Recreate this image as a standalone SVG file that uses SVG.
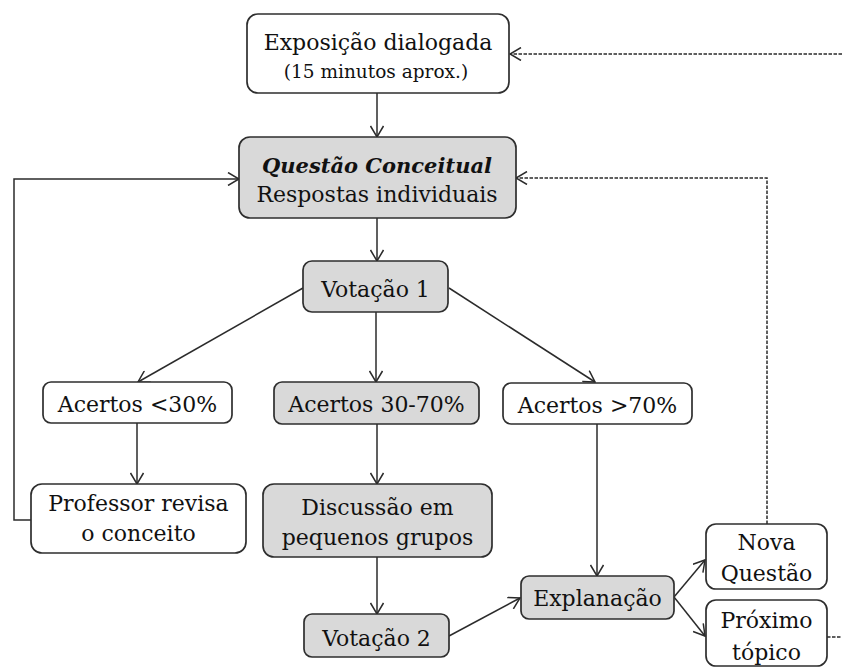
<svg xmlns="http://www.w3.org/2000/svg" width="842" height="669" viewBox="0 0 842 669">
<defs>
<marker id="arr" viewBox="-12 -7 13 14" refX="0" refY="0" markerWidth="13" markerHeight="14" markerUnits="userSpaceOnUse" orient="auto">
<path d="M-11,-6.5 L0,0 L-11,6.5" fill="none" stroke="#2b2b2b" stroke-width="1.5"/>
</marker>
<style>
.box{stroke:#2e2e2e;stroke-width:1.7}
.w{fill:#fff}
.g{fill:#d9d9d9}
text{font-family:"DejaVu Serif","Liberation Serif",serif;font-size:22px;fill:#111;text-anchor:middle}
.sm{font-size:18.5px}
.bi{font-weight:bold;font-style:italic;font-size:21px}
.c{fill:none;stroke:#2b2b2b;stroke-width:1.5}
.d{stroke-dasharray:3.5 1.5}
</style>
</defs>
<rect width="842" height="669" fill="#fff"/>
<g id="connectors">
<path class="c d" d="M842,54 H510" marker-end="url(#arr)"/>
<path class="c" d="M377,93 V137" marker-end="url(#arr)"/>
<path class="c" d="M31,520 H14 V179 H239" marker-end="url(#arr)"/>
<path class="c d" d="M767,524 V178 H516" marker-end="url(#arr)"/>
<path class="c" d="M377,218 V261" marker-end="url(#arr)"/>
<path class="c" d="M303,288 L138,382" marker-end="url(#arr)"/>
<path class="c" d="M376,312 V382" marker-end="url(#arr)"/>
<path class="c" d="M449,288 L595,382" marker-end="url(#arr)"/>
<path class="c" d="M137,423 V484" marker-end="url(#arr)"/>
<path class="c" d="M377,424 V484" marker-end="url(#arr)"/>
<path class="c" d="M377,557 V614" marker-end="url(#arr)"/>
<path class="c" d="M449,636 L520,598" marker-end="url(#arr)"/>
<path class="c" d="M597,424 V576" marker-end="url(#arr)"/>
<path class="c" d="M674,597 L705,560" marker-end="url(#arr)"/>
<path class="c" d="M674,597 L705,636" marker-end="url(#arr)"/>
<path class="c d" d="M827,637 H842"/>
</g>
<g id="n1"><rect class="box w" x="247" y="14" width="262" height="79" rx="11"/>
<text x="378" y="50">Exposição dialogada</text><text class="sm" x="376" y="78">(15 minutos aprox.)</text></g>
<g id="n2"><rect class="box g" x="239" y="137" width="277" height="81" rx="11"/>
<text class="bi" x="377" y="173">Questão Conceitual</text><text x="377" y="202">Respostas individuais</text></g>
<g id="n3"><rect class="box g" x="303" y="261" width="145" height="51" rx="9"/>
<text x="375.5" y="297">Votação 1</text></g>
<g id="n4"><rect class="box w" x="43" y="382" width="189" height="41" rx="8"/>
<text x="137.5" y="412">Acertos &lt;30%</text></g>
<g id="n5"><rect class="box g" x="274" y="382" width="205" height="42" rx="8"/>
<text x="376.5" y="412">Acertos 30-70%</text></g>
<g id="n6"><rect class="box w" x="503" y="383" width="189" height="41" rx="8"/>
<text x="597.5" y="413">Acertos &gt;70%</text></g>
<g id="n7"><rect class="box w" x="31" y="484" width="215" height="69" rx="11"/>
<text x="138.5" y="511">Professor revisa</text><text x="138.5" y="541">o conceito</text></g>
<g id="n8"><rect class="box g" x="263" y="484" width="229" height="73" rx="11"/>
<text x="377.5" y="515">Discussão em</text><text x="377.5" y="545">pequenos grupos</text></g>
<g id="n9"><rect class="box g" x="304" y="614" width="145" height="43" rx="8"/>
<text x="376.5" y="646">Votação 2</text></g>
<g id="n10"><rect class="box g" x="521" y="576" width="153" height="43" rx="8"/>
<text x="597.5" y="606">Explanação</text></g>
<g id="n11"><rect class="box w" x="706" y="524" width="121" height="65" rx="10"/>
<text x="766.5" y="550">Nova</text><text x="766.5" y="581">Questão</text></g>
<g id="n12"><rect class="box w" x="706" y="600" width="121" height="66" rx="10"/>
<text x="766.5" y="628">Próximo</text><text x="766.5" y="660">tópico</text></g>
</svg>
